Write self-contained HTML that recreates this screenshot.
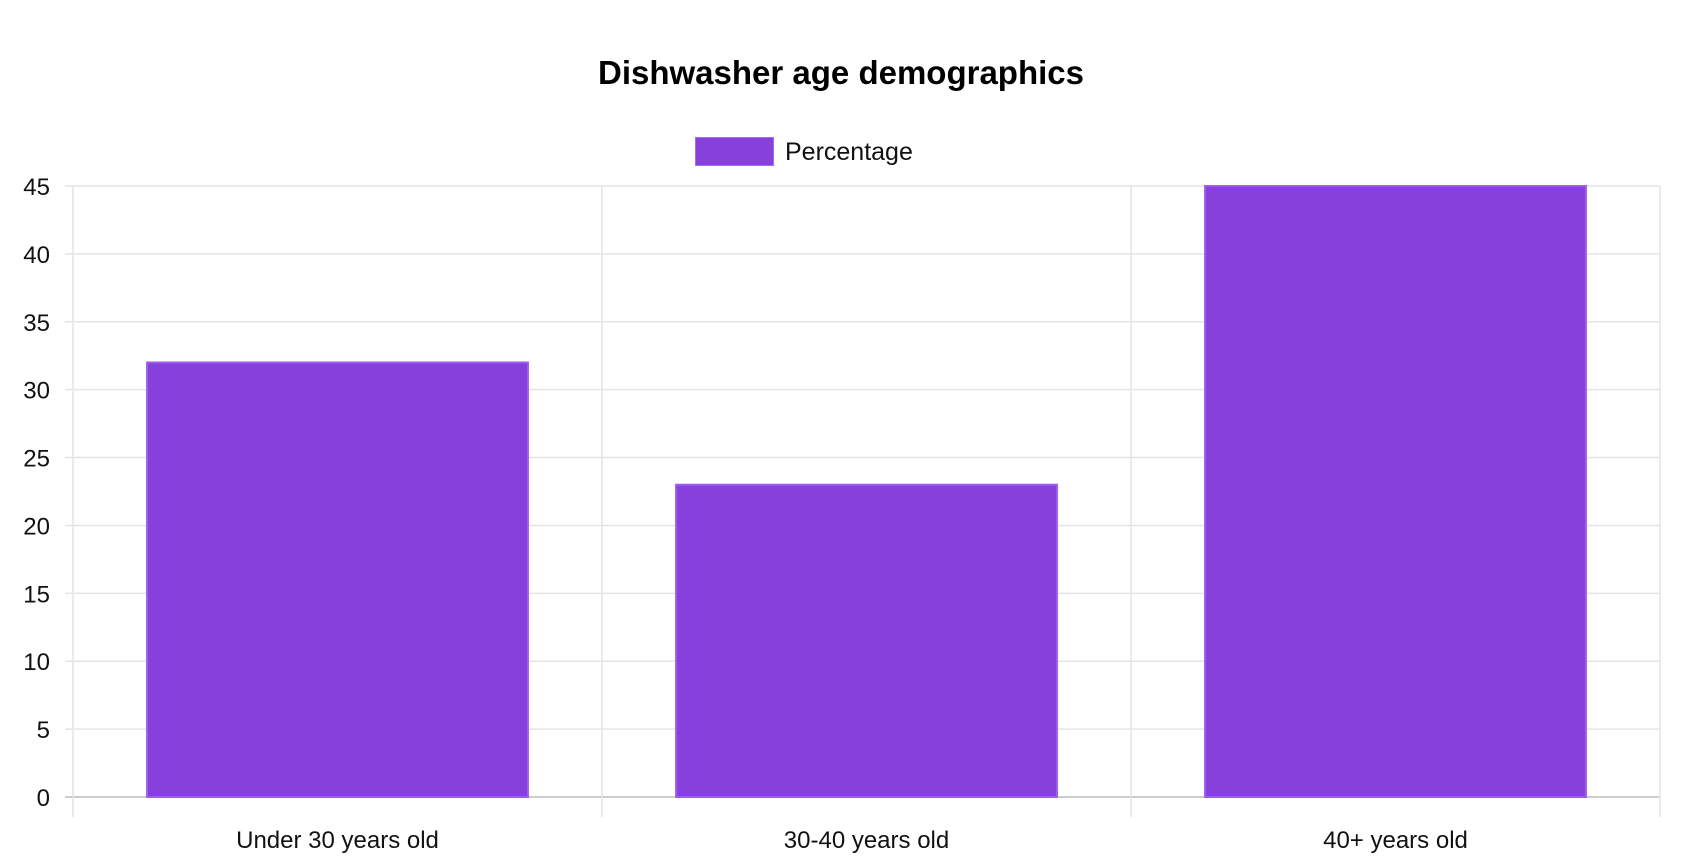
<!DOCTYPE html>
<html><head><meta charset="utf-8"><style>
html,body{margin:0;padding:0;background:#fff;}
svg{display:block;font-family:"Liberation Sans",Arial,sans-serif;}
</style></head><body>
<svg id="chart" width="1682" height="866">
<text x="841" y="84" text-anchor="middle" font-size="33" font-weight="bold" fill="#000">Dishwasher age demographics</text>
<g>
<rect x="695.5" y="137.5" width="78" height="28" fill="#8840dc" stroke="#a370ec" stroke-width="1"/>
<text x="785" y="160" font-size="25" fill="#111">Percentage</text>
</g>
<g id="grid"></g><g id="bars"></g><g id="labels"></g>
</svg>
<script>
const categories=["Under 30 years old","30-40 years old","40+ years old"];
const values=[32,23,45];
const yTicks=[0,5,10,15,20,25,30,35,40,45];
const L=73,R=1660,T=186,B=797,YMAX=45;
const ns="http://www.w3.org/2000/svg";
const y=v=>B-(v/YMAX)*(B-T);
const cw=(R-L)/categories.length;
const x=i=>L+cw*i;
function mk(tag,attrs,parent){const e=document.createElementNS(ns,tag);for(const k in attrs)e.setAttribute(k,attrs[k]);document.getElementById(parent).appendChild(e);return e;}
yTicks.forEach(t=>{
 const g=mk('line',{x1:L-8,x2:R,y1:y(t),y2:y(t),stroke:t===0?'#ccc':'#e4e4e4','stroke-width':t===0?2:1.5},'grid');
 
 
 const tx=mk('text',{x:50,y:y(t)+9,'text-anchor':'end','font-size':24,fill:'#111'},'labels');
 tx.textContent=t;
 
 
});
for(let i=0;i<=categories.length;i++){
 const l=mk('line',{x1:x(i),x2:x(i),y1:T,y2:B+20,stroke:'#e4e4e4','stroke-width':1.5},'grid');
 
 
}
categories.forEach((c,i)=>{
 const bw=cw*0.72, bx=x(i)+(cw-bw)/2;
 const r=mk('rect',{x:bx,y:y(values[i]),width:bw,height:B-y(values[i]),fill:'#8840dc',stroke:'#9d5ceb','stroke-width':2},'bars');
 
 
 const t=mk('text',{x:x(i)+cw/2,y:848,'text-anchor':'middle','font-size':24,fill:'#111'},'labels');
 t.textContent=c;
 
 
});
</script>
</body></html>
